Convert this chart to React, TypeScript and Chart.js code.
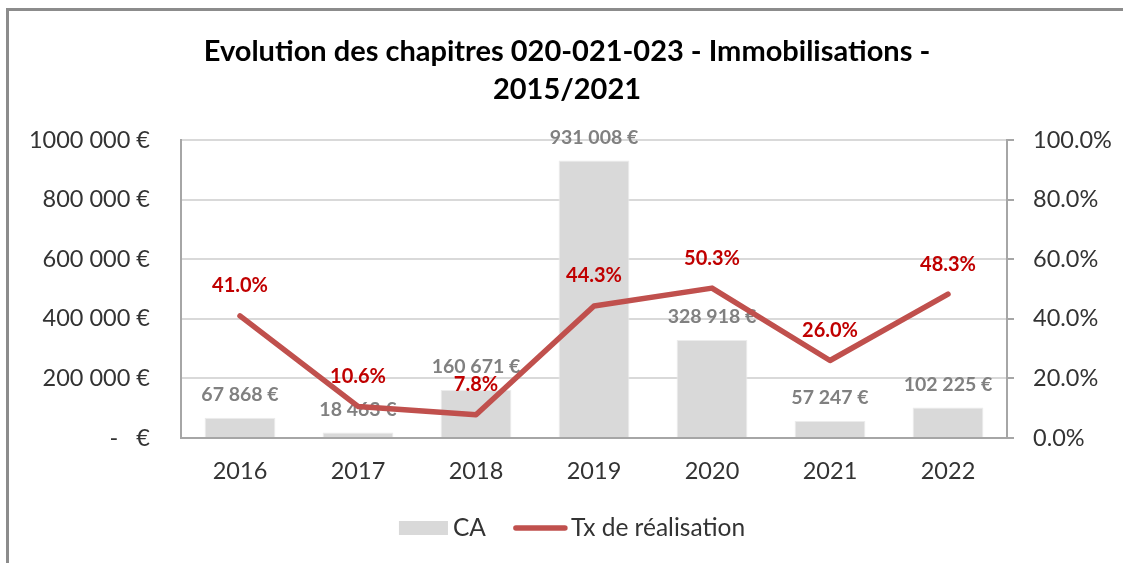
import { useEffect, useRef } from "react";
import { Chart, registerables } from "chart.js";

Chart.register(...registerables);

const categories = ["2016", "2017", "2018", "2019", "2020", "2021", "2022"];
const caValues = [67868, 18463, 160671, 931008, 328918, 57247, 102225];
const txValues = [41.0, 10.6, 7.8, 44.3, 50.3, 26.0, 48.3];
const leftTickValues = [0, 200000, 400000, 600000, 800000, 1000000];
const leftTickLabels = ["-   €", "200 000 €", "400 000 €", "600 000 €", "800 000 €", "1000 000 €"];
const rightTickLabels = ["0.0%", "20.0%", "40.0%", "60.0%", "80.0%", "100.0%"];
const titleLines = ["Evolution des chapitres 020-021-023 - Immobilisations -", "2015/2021"];
const seriesLabels = ["CA", "Tx de réalisation"];

const FONT = "Lato, 'Open Sans', sans-serif";
const BAR_COLOR = "#d9d9d9";
const LINE_COLOR = "#c0504d";
const TEXT_COLOR = "#333333";

function formatEuro(v: number): string {
  return String(Math.round(v)).replace(/\B(?=(\d{3})+(?!\d))/g, " ") + " €";
}

const decorPlugin = {
  id: "decor",
  beforeDraw(chart: any) {
    const ctx = chart.ctx;
    ctx.save();
    ctx.fillStyle = "#ffffff";
    ctx.fillRect(0, 0, chart.width, chart.height);
    ctx.fillStyle = "#8c8c8c";
    ctx.fillRect(6, 8, chart.width - 6, 3);
    ctx.fillRect(6, 8, 3, chart.height - 8);
    ctx.restore();
  },
  afterDatasetDraw(chart: any, args: any) {
    const ctx = chart.ctx;
    const meta = chart.getDatasetMeta(args.index);
    const ds = chart.data.datasets[args.index];
    ctx.save();
    ctx.textAlign = "center";
    ctx.textBaseline = "middle";
    if (ds.type === "bar") {
      ctx.font = `bold 19.5px ${FONT}`;
      ctx.fillStyle = "#808080";
      meta.data.forEach((el: any, i: number) => {
        ctx.fillText(formatEuro(ds.data[i]), el.x, el.y - 23);
      });
    } else {
      ctx.font = `bold 20px ${FONT}`;
      ctx.fillStyle = "#c00000";
      meta.data.forEach((el: any, i: number) => {
        ctx.fillText(ds.data[i].toFixed(1) + "%", el.x, el.y - 30);
      });
    }
    ctx.restore();
  },
  afterDraw(chart: any) {
    const ctx = chart.ctx;
    ctx.save();
    // title
    ctx.fillStyle = "#000000";
    ctx.textAlign = "center";
    ctx.textBaseline = "middle";
    ctx.font = `bold 29px ${FONT}`;
    ctx.fillText(titleLines[0], 567, 52);
    ctx.fillText(titleLines[1], 567, 90);
    // legend
    ctx.font = `24.5px ${FONT}`;
    const cy = 528;
    const boxW = 49;
    const lineW = 55;
    const w1 = ctx.measureText(seriesLabels[0]).width;
    const w2 = ctx.measureText(seriesLabels[1]).width;
    const total = boxW + 5 + w1 + 27 + lineW + 3 + w2;
    let x = 572 - total / 2;
    ctx.fillStyle = BAR_COLOR;
    ctx.fillRect(x, cy - 7, boxW, 14);
    x += boxW + 5;
    ctx.fillStyle = TEXT_COLOR;
    ctx.textAlign = "left";
    ctx.fillText(seriesLabels[0], x, cy);
    x += w1 + 27;
    ctx.strokeStyle = LINE_COLOR;
    ctx.lineWidth = 5.5;
    ctx.lineCap = "round";
    ctx.beginPath();
    ctx.moveTo(x + 3, cy);
    ctx.lineTo(x + lineW - 3, cy);
    ctx.stroke();
    x += lineW + 3;
    ctx.fillText(seriesLabels[1], x, cy);
    ctx.restore();
  },
};

export default function App() {
  const canvasRef = useRef<HTMLCanvasElement | null>(null);

  useEffect(() => {
    document.body.style.margin = "0";
    const canvas = canvasRef.current;
    if (!canvas) return;
    const chart = new Chart(canvas, {
      type: "bar",
      data: {
        labels: categories,
        datasets: [
          {
            type: "bar",
            label: seriesLabels[0],
            data: caValues,
            backgroundColor: BAR_COLOR,
            borderColor: "#ececec",
            borderWidth: 1,
            barPercentage: 0.6,
            categoryPercentage: 1,
            yAxisID: "y",
            order: 2,
          },
          {
            type: "line",
            label: seriesLabels[1],
            data: txValues,
            borderColor: LINE_COLOR,
            borderWidth: 5.5,
            pointRadius: 0,
            borderJoinStyle: "round",
            borderCapStyle: "round",
            tension: 0,
            yAxisID: "y1",
            order: 1,
          },
        ],
      } as any,
      options: {
        responsive: false,
        animation: false,
        devicePixelRatio: 1,
        layout: { padding: { top: 140, bottom: 65, left: 0, right: 0 } },
        plugins: {
          legend: { display: false },
          title: { display: false },
          tooltip: { enabled: false },
        },
        scales: {
          x: {
            grid: { display: false, drawTicks: false },
            border: { display: true, color: "#a6a6a6", width: 2 },
            ticks: { color: TEXT_COLOR, font: { family: FONT, size: 23.5 }, padding: 19 },
            afterFit(scale: any) {
              scale.height = 60;
            },
          },
          y: {
            position: "left",
            min: 0,
            max: 1000000,
            afterBuildTicks(scale: any) {
              scale.ticks = leftTickValues.map((v) => ({ value: v }));
            },
            grid: { color: "#d9d9d9", lineWidth: 2, drawTicks: false },
            border: { display: true, color: "#a6a6a6", width: 2 },
            ticks: {
              color: TEXT_COLOR,
              font: { family: FONT, size: 23.5 },
              padding: 31,
              callback: (_v: any, i: number) => leftTickLabels[i],
            },
            afterFit(scale: any) {
              scale.width = 181;
            },
          },
          y1: {
            position: "right",
            min: 0,
            max: 100,
            ticks: {
              stepSize: 20,
              color: TEXT_COLOR,
              font: { family: FONT, size: 23.5 },
              padding: 19,
              callback: (_v: any, i: number) => rightTickLabels[i],
            },
            grid: { drawOnChartArea: false, color: "#a6a6a6", lineWidth: 2, tickLength: 7 },
            border: { display: true, color: "#a6a6a6", width: 2 },
            afterFit(scale: any) {
              scale.width = 1123 - 1007;
            },
          },
        },
      } as any,
      plugins: [decorPlugin],
    });
    return () => chart.destroy();
  }, []);

  return (
    <div style={{ position: "absolute", left: 0, top: 0, width: 1123, height: 563 }}>
      <canvas ref={canvasRef} width={1123} height={563} />
    </div>
  );
}
